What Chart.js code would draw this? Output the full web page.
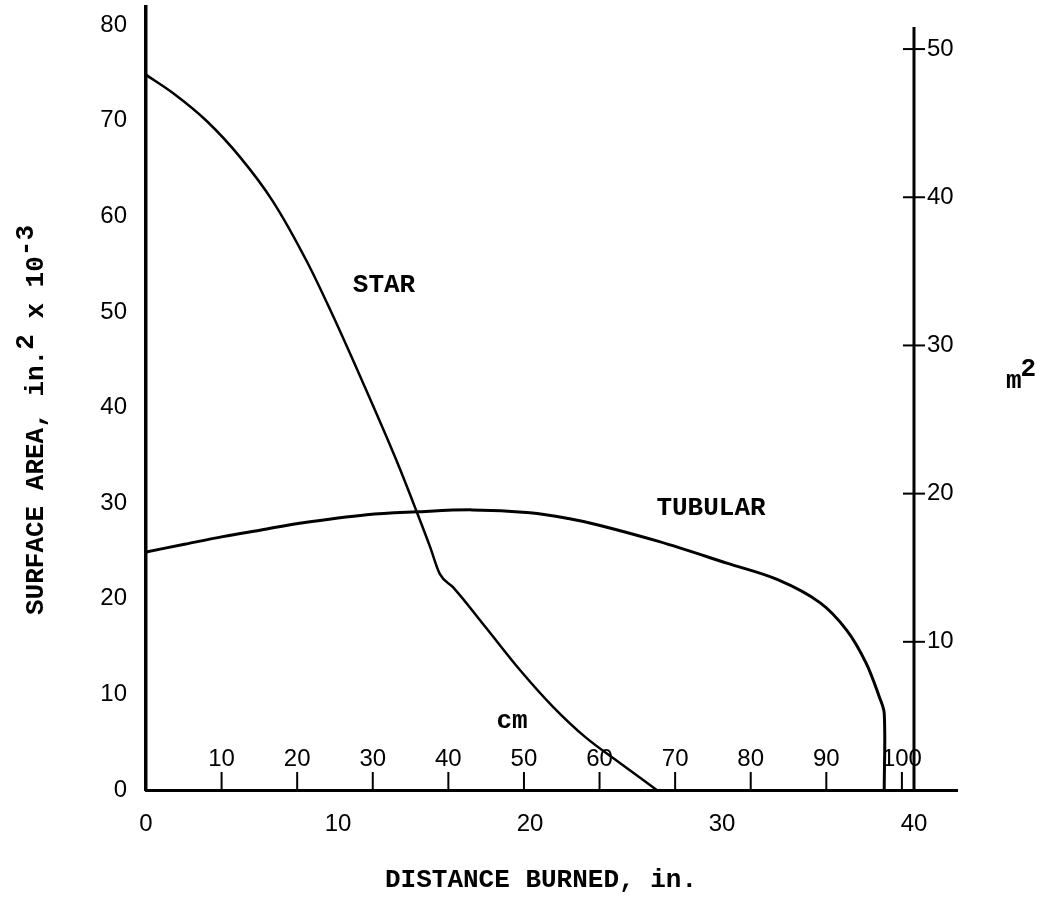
<!DOCTYPE html>
<html><head><meta charset="utf-8">
<script src="https://cdn.jsdelivr.net/npm/chart.js@4"></script>
<style>html,body{margin:0;padding:0;background:#fff}#wrap{width:1046px;height:898px}</style>
</head><body><div id="wrap"><canvas id="c" width="1046" height="898"></canvas></div>
<script>
// ---- data ----
const X_TICKS = [0, 10, 20, 30, 40];                 // in.
const Y_TICKS = [0, 10, 20, 30, 40, 50, 60, 70, 80]; // in.^2 x 10^-3
const RIGHT_TICKS_M2 = [10, 20, 30, 40, 50];         // m^2
const CM_TICKS = [10, 20, 30, 40, 50, 60, 70, 80, 90, 100]; // cm

const STAR_X = [0, 1.4, 3.2, 4.9, 6.6, 8.4, 9.6, 11.3, 13.1, 14.1, 14.8, 15.3, 16.0, 17.7, 19.5, 21.2, 22.9, 24.7, 26.6];
const STAR_Y = [74.8, 72.9, 69.9, 66.2, 61.6, 55.2, 50.2, 42.6, 34.2, 29.1, 25.4, 22.6, 21.2, 17.0, 12.5, 8.7, 5.5, 2.8, 0];

const TUB_X = [0, 2, 4, 6, 8, 11.5, 14.1, 17, 20, 22, 23.6, 26.7, 30.3, 32.9, 35.1, 36.5, 37.5, 38.2, 38.45, 38.45];
const TUB_Y = [24.9, 25.7, 26.5, 27.2, 27.9, 28.8, 29.1, 29.3, 29.0, 28.4, 27.7, 26.0, 23.7, 22.0, 19.6, 16.7, 13.3, 9.7, 8.0, 0];

const IN2K_PER_M2 = 1.55; // 1 m^2 = 1550 in^2 = 1.55 x 10^3 in^2
const CM_PER_IN = 2.54;

const TICK_FONT = '24px "Liberation Sans", Arial, sans-serif';
const TYPE_FONT = 'bold 26px "Liberation Mono", "Courier New", monospace';

const overlay = {
  id: 'overlay',
  afterDraw(chart) {
    const ctx = chart.ctx, x = chart.scales.x, y = chart.scales.y;
    ctx.save();
    ctx.strokeStyle = '#000'; ctx.fillStyle = '#000';
    // right (m^2) axis at x = 40 in.
    const xr = x.getPixelForValue(40);
    const y0 = y.getPixelForValue(0);
    ctx.lineWidth = 3;
    ctx.beginPath(); ctx.moveTo(xr, y0); ctx.lineTo(xr, y.getPixelForValue(79.8)); ctx.stroke();
    ctx.lineWidth = 2;
    ctx.font = TICK_FONT; ctx.textAlign = 'left'; ctx.textBaseline = 'middle';
    RIGHT_TICKS_M2.forEach(v => {
      const py = y.getPixelForValue(v * IN2K_PER_M2);
      ctx.beginPath(); ctx.moveTo(xr - 11, py); ctx.lineTo(xr + 11, py); ctx.stroke();
      ctx.fillText(String(v), xr + 13, py);
    });
    // cm scale along the bottom axis
    ctx.textAlign = 'center';
    CM_TICKS.forEach(v => {
      const px = x.getPixelForValue(v / CM_PER_IN);
      ctx.beginPath(); ctx.moveTo(px, y0); ctx.lineTo(px, y0 - 18); ctx.stroke();
      ctx.fillText(String(v), px, y0 - 31);
    });
    // text labels
    ctx.font = TYPE_FONT; ctx.textBaseline = 'alphabetic';
    ctx.textAlign = 'center';
    ctx.fillText('cm', 512, 728);
    ctx.fillText('STAR', 384, 292);
    ctx.fillText('TUBULAR', 711, 515);
    ctx.fillText('DISTANCE BURNED, in.', 541, 887);
    // m^2
    ctx.textAlign = 'left';
    ctx.fillText('m', 1006, 388);
    const mw = ctx.measureText('m').width;
    ctx.fillText('2', 1006 + mw - 1, 376);
    // left title (rotated), with raised superscripts
    const segs = [['SURFACE AREA, in.', 0], ['2', -10], [' x 10', 0], ['-3', -10]];
    const total = segs.reduce((s, g) => s + ctx.measureText(g[0]).width, 0);
    ctx.translate(43, 420);
    ctx.rotate(-Math.PI / 2);
    let u = -total / 2;
    segs.forEach(g => { ctx.fillText(g[0], u, g[1]); u += ctx.measureText(g[0]).width; });
    ctx.restore();
  }
};

new Chart(document.getElementById('c'), {
  type: 'scatter',
  data: {
    datasets: [
      { label: 'STAR', data: STAR_X.map((v, i) => ({ x: v, y: STAR_Y[i] })), showLine: true,
        borderColor: '#000', borderWidth: 2.5, pointRadius: 0, cubicInterpolationMode: 'monotone', fill: false },
      { label: 'TUBULAR', data: TUB_X.map((v, i) => ({ x: v, y: TUB_Y[i] })), showLine: true,
        borderColor: '#000', borderWidth: 3, pointRadius: 0, tension: 0.35, fill: false }
    ]
  },
  options: {
    responsive: false, animation: false, devicePixelRatio: 1,
    layout: { padding: { top: 7, right: 89, left: 0, bottom: 0 } },
    plugins: { legend: { display: false }, tooltip: { enabled: false } },
    scales: {
      x: {
        type: 'linear', position: 'bottom', min: 0, max: 42.24,
        afterBuildTicks: s => { s.ticks = X_TICKS.map(v => ({ value: v })); },
        afterFit: s => { s.height = 108; s.paddingLeft = 0; s.paddingRight = 0; },
        grid: { display: false, drawTicks: false },
        border: { display: true, color: '#000', width: 3 },
        ticks: { color: '#000', font: { family: '"Liberation Sans", Arial, sans-serif', size: 24 }, padding: 20, maxRotation: 0, autoSkip: false }
      },
      y: {
        type: 'linear', position: 'left', min: 0, max: 81.9,
        afterBuildTicks: s => { s.ticks = Y_TICKS.map(v => ({ value: v })); },
        afterFit: s => { s.width = 146; s.paddingTop = 0; s.paddingBottom = 0; },
        grid: { display: false, drawTicks: false },
        border: { display: true, color: '#000', width: 3.5 },
        ticks: { color: '#000', font: { family: '"Liberation Sans", Arial, sans-serif', size: 24 }, padding: 19, autoSkip: false }
      }
    }
  },
  plugins: [overlay]
});
</script></body></html>
